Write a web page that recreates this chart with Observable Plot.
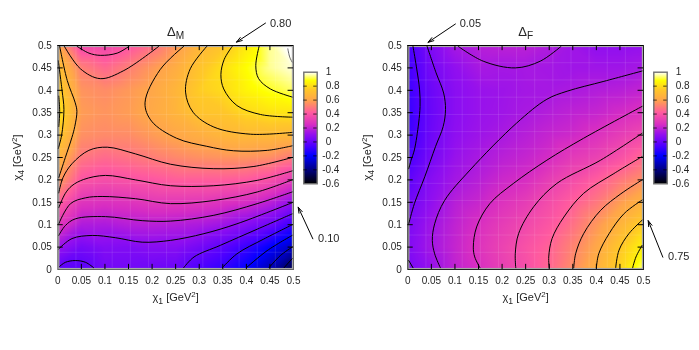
<!DOCTYPE html>
<html>
<head>
<meta charset="utf-8">
<style>
html,body{margin:0;padding:0;background:#fff}
#fig{position:relative;width:699px;height:350px;overflow:hidden;font-family:"Liberation Sans",sans-serif;filter:blur(.3px)}
#fig>svg,#fig>div{position:absolute;background:transparent}
</style>
<script src="https://cdn.jsdelivr.net/npm/d3@7"></script>
<script src="https://cdn.jsdelivr.net/npm/@observablehq/plot@0.6"></script>
</head>
<body>
<div id="fig"></div>
<script>
// axis samples of both value grids (GeV^2)
const chi1 = [0,.05,.1,.15,.2,.25,.3,.35,.4,.45,.5];
const chi4 = [0,.05,.1,.15,.2,.25,.3,.35,.4,.45,.5];
const axisTicks = [0,.05,.1,.15,.2,.25,.3,.35,.4,.45,.5];
const cbTicks = [-.6,-.4,-.2,0,.2,.4,.6,.8,1];
// faint cell boundaries visible in the colour map
const cellEdges = [1,2,3,4,5,6,7,8,9,10,11,12].map(k => k/26);

// Delta_M: one row per chi1 value, one entry per chi4 value
const deltaM = [
 [-.02,.12,.29,.44,.585,.67,.76,.83,.78,.72,.62],
 [-.03,.04,.165,.285,.405,.49,.55,.58,.56,.51,.36],
 [.03,.07,.16,.27,.38,.46,.535,.56,.54,.455,.35],
 [.03,.064,.18,.28,.395,.48,.54,.58,.57,.51,.40],
 [.02,.08,.185,.30,.41,.505,.575,.62,.61,.57,.47],
 [.01,.08,.175,.30,.43,.53,.61,.665,.67,.635,.565],
 [-.06,.035,.16,.295,.43,.55,.64,.73,.76,.73,.67],
 [-.11,-.02,.13,.275,.43,.56,.675,.74,.795,.805,.74],
 [-.2,-.095,.075,.25,.42,.56,.69,.79,.855,.88,.83],
 [-.32,-.2,.02,.19,.385,.545,.69,.815,.895,.95,.95],
 [-.5,-.3,-.1,.1,.3,.5,.68,.82,.93,.985,1.03]
];
// Delta_F: same layout
const deltaF = [
 [.04,.065,.05,.02,-.02,-.065,-.09,-.1,-.09,-.08,-.07],
 [.11,.14,.13,.1,.08,.04,.02,.01,.015,.035,.06],
 [.2,.21,.20,.18,.14,.115,.095,.085,.085,.10,.145],
 [.255,.275,.255,.215,.18,.15,.125,.115,.115,.145,.18],
 [.32,.335,.31,.27,.225,.185,.15,.13,.125,.14,.19],
 [.38,.39,.355,.31,.25,.21,.18,.15,.14,.145,.19],
 [.45,.44,.405,.37,.315,.245,.21,.175,.145,.14,.165],
 [.545,.52,.475,.43,.37,.30,.23,.195,.155,.13,.13],
 [.65,.61,.565,.49,.425,.33,.265,.21,.17,.13,.10],
 [.78,.745,.665,.58,.49,.385,.31,.24,.18,.13,.10],
 [.95,.855,.77,.66,.55,.455,.355,.27,.205,.145,.11]
];

// contour lines of Delta_M, read as [chi1, chi4]
const mC10 = [[.488,.4926],[.492,.474],[.497,.463]];
const mC09 = [[.427,.498],[.42,.455],[.426,.426],[.451,.403],[.497,.385]];
const mC08 = [[.37,.498],[.353,.469],[.346,.435],[.352,.403],[.38,.366],[.43,.346],[.497,.34]];
const mC07 = [[.316,.498],[.281,.448],[.271,.396],[.287,.351],[.331,.318],[.409,.302],[.497,.306]];
const mC06 = [[.267,.498],[.217,.446],[.185,.372],[.199,.331],[.252,.293],[.316,.275],[.373,.265],[.445,.266],[.497,.276]];
const mC05 = [[.002,.171],[.011,.205],[.030,.236],[.066,.266],[.105,.273],[.165,.258],[.239,.235],[.331,.225],[.416,.230],[.497,.25]];
const mC04 = [[.002,.138],[.016,.17],[.03,.187],[.055,.201],[.101,.21],[.165,.2],[.239,.187],[.331,.187],[.423,.199],[.497,.22]];
const mC03 = [[.002,.102],[.027,.147],[.059,.160],[.094,.163],[.165,.158],[.239,.147],[.331,.154],[.423,.173],[.497,.2]];
const mC02 = [[.002,.076],[.016,.098],[.037,.113],[.101,.118],[.179,.109],[.239,.108],[.331,.121],[.423,.147],[.497,.173]];
const mC01 = [[.002,.046],[.030,.069],[.073,.076],[.122,.071],[.179,.061],[.239,.065],[.31,.080],[.38,.102],[.497,.149]];
const mC00 = [[.267,.004],[.289,.028],[.345,.054],[.423,.09],[.497,.124]];
const mCm1 = [[.349,.004],[.380,.035],[.437,.068],[.497,.0997]];
const mCm2 = [[.40,.004],[.444,.042],[.497,.076]];
const mCm3 = [[.448,.004],[.472,.031],[.497,.05]];
const mCm4 = [[.48,.004],[.497,.024]];
const mC00arc = [[.004,.007],[.016,.016],[.037,.02],[.059,.016],[.076,.004]];
const mC05top = [[.014,.498],[.048,.448],[.09,.426],[.14,.444],[.214,.498]];
const mC04top = [[.041,.498],[.066,.483],[.09,.478],[.126,.483],[.151,.498]];
const mC06left = [[.004,.498],[.02,.422],[.037,.372],[.0405,.353],[.036,.319],[.03,.295],[.016,.25],[.002,.205]];
const mC07left = [[.001,.466],[.009,.4],[.013,.357],[.008,.299],[.001,.27]];
const mC08left = [[.002,.387],[.004,.353],[.002,.319]];
const mLines = [mC09,mC08,mC07,mC06,mC05,mC04,mC03,mC02,mC01,mC00,mCm1,mCm2,mCm3,mCm4,mC00arc,mC05top,mC04top,mC06left,mC07left,mC08left];
const mLinesGrey = [mC10];

// contour lines of Delta_F
const fCm05 = [[.011,.498],[.018,.454],[.025,.401],[.026,.364],[.023,.327],[.014,.267],[.007,.244],[.002,.225]];
const fC05 = [[.041,.498],[.06,.439],[.076,.394],[.08,.357],[.075,.319],[.059,.275],[.036,.207],[.014,.147],[.002,.102]];
const fC05corner = [[.002,.02],[.011,.004]];
const fC15 = [[.069,.004],[.057,.035],[.052,.065],[.057,.102],[.078,.154],[.132,.222],[.231,.327],[.295,.38],[.338,.398],[.416,.42],[.497,.443]];
const fC15top = [[.107,.498],[.16,.465],[.228,.45],[.281,.465],[.325,.498]];
const fC25 = [[.153,.004],[.142,.028],[.139,.05],[.146,.095],[.174,.147],[.224,.192],[.295,.244],[.373,.293],[.497,.364]];
const fC35 = [[.229,.004],[.228,.035],[.235,.08],[.267,.14],[.316,.192],[.409,.244],[.497,.304]];
const fC45 = [[.30,.004],[.299,.028],[.306,.069],[.331,.117],[.373,.17],[.437,.214],[.497,.252]];
const fC55 = [[.352,.004],[.356,.035],[.373,.08],[.409,.132],[.452,.169],[.497,.2]];
const fC65 = [[.40,.004],[.405,.035],[.427,.08],[.459,.125],[.497,.155]];
const fC75 = [[.441,.004],[.448,.043],[.469,.08],[.497,.11]];
const fC85 = [[.477,.004],[.484,.028],[.497,.054]];
const fLines = [fCm05,fC05,fC05corner,fC15,fC15top,fC25,fC35,fC45,fC55,fC65,fC75,fC85];

const colorScale = {
  type: "linear", clamp: true,
  domain: [-.6,-.4,-.2,-.05,.1,.25,.42,.6,.75,.88,1],
  range: ["#000000","#000082","#0000ff","#5000ff","#910ff0","#d72dc3","#ff5aa0","#ffa54b","#ffc828","#ffff00","#ffffff"]
};
const tickFormat = d => String(d);
const fontFamily = '"Liberation Sans",sans-serif';
const ink = "#262626";

function table(grid){
  const out = [];
  chi1.forEach((x,i) => chi4.forEach((y,j) => out.push({x, y, v: grid[i][j]})));
  return out;
}
function lineMark(pts, stroke){
  return Plot.line(pts, {x:d=>d[0], y:d=>d[1], curve:"catmull-rom", stroke, strokeWidth:1});
}
// turn _x and ^x markers in text into real sub/superscript tspans
function richText(svg){
  svg.querySelectorAll("text").forEach(t => {
    const nodes = t.querySelectorAll("tspan").length ? [...t.querySelectorAll("tspan")] : [t];
    nodes.forEach(n => {
      const s = n.textContent;
      if (!/[_^]/.test(s)) return;
      n.textContent = "";
      const big = n.closest("[font-size]") ? parseFloat(n.closest("[font-size]").getAttribute("font-size")) : 10;
      let shift = 0;
      s.split(/([_^].)/).filter(Boolean).forEach(part => {
        const ts = document.createElementNS("http://www.w3.org/2000/svg","tspan");
        let target = 0, txt = part;
        if (part[0]==="_"){target = big*.28; txt = part[1]; ts.setAttribute("font-size", big*.78);}
        else if (part[0]==="^"){target = -big*.38; txt = part[1]; ts.setAttribute("font-size", big*.72);}
        ts.setAttribute("dy", target - shift);
        shift = target;
        ts.textContent = txt;
        n.appendChild(ts);
      });
    });
  });
}

function panel(opts){
  const {grid, lines, greyLines, title, arrows, labels, left, frameStroke} = opts;
  const W = 350, H = 330;
  const len = .0115;
  const raster = Plot.raster(table(grid), {
    x:"x", y:"y", fill:"v", interpolate:"barycentric", pixelSize:1,
    x1:.0035, x2:.4965, y1:.0035, y2:.4965
  });
  const p = Plot.plot({
    width:W, height:H, marginLeft:57.3, marginRight:57, marginTop:45, marginBottom:61,
    style:{background:"transparent", fontFamily, fontSize:"10px", color:ink, overflow:"visible"},
    x:{domain:[0,.5], axis:null},
    y:{domain:[0,.5], axis:null},
    color:colorScale,
    marks:[
      Plot.frame({fill:"#a8a8a8", stroke:"none"}),
      raster,
      Plot.ruleX(cellEdges, {y1:.0035, y2:.4965, stroke:"#fff", strokeOpacity:.1, strokeWidth:1}),
      Plot.ruleY(cellEdges, {x1:.0035, x2:.4965, stroke:"#fff", strokeOpacity:.1, strokeWidth:1}),
      ...lines.map(l => lineMark(l, "#000")),
      ...greyLines.map(l => lineMark(l, "#666")),
      Plot.frame({stroke:frameStroke, strokeWidth:1}),
      Plot.ruleY([.5], {x1:0, x2:.5, stroke:"#000", strokeWidth:1}),
      Plot.ruleX(axisTicks.slice(1,-1), {y1:0, y2:len, stroke:"#000", strokeWidth:1}),
      Plot.ruleX(axisTicks.slice(1,-1), {y1:.5-len, y2:.5, stroke:"#000", strokeWidth:1}),
      Plot.ruleY(axisTicks.slice(1,-1), {x1:0, x2:len, stroke:"#000", strokeWidth:1}),
      Plot.ruleY(axisTicks.slice(1,-1), {x1:.5-len, x2:.5, stroke:"#000", strokeWidth:1}),
      Plot.axisX(axisTicks, {anchor:"bottom", tickSize:0, tickPadding:7, tickFormat, fontSize:10, fill:ink, label:null}),
      Plot.axisY(axisTicks, {anchor:"left", tickSize:0, tickPadding:6, tickFormat, fontSize:10, fill:ink, label:null}),
      Plot.text([title], {x:.25, y:.5, dy:-14, text:d=>d, fontSize:13, fill:ink, fontFamily}),
      Plot.text(["χ_1 [GeV^2]"], {x:.25, y:-.062, text:d=>d, fontSize:11, fill:ink, fontFamily}),
      Plot.text(["χ_4 [GeV^2]"], {x:-.085, y:.25, text:d=>d, rotate:-90, fontSize:11, fill:ink, fontFamily}),
      Plot.arrow(arrows, {x1:"x1", y1:"y1", x2:"x2", y2:"y2", stroke:"#000", strokeWidth:1, bend:0, headLength:9, headAngle:35}),
      Plot.text(labels, {x:"x", y:"y", text:"t", textAnchor:"start", fontSize:11, fill:ink, fontFamily})
    ]
  });
  p.style.left = left + "px";
  p.style.top = "0px";
  richText(p);
  return p;
}

function colorbar(left){
  const pos = cbTicks.filter(d => d >= 0), neg = cbTicks.filter(d => d < 0);
  const mid = cbTicks.slice(1,-1);
  const p = Plot.plot({
    width:50, height:130, marginLeft:7.3, marginRight:29.3, marginTop:11.7, marginBottom:6.7,
    style:{background:"transparent", fontFamily, fontSize:"10px", color:ink, overflow:"visible"},
    x:{domain:[0,1], axis:null},
    y:{domain:[-.6,1], axis:null},
    color:colorScale,
    marks:[
      Plot.raster({x1:0, x2:1, y1:-.6, y2:1, fill:(x,y)=>y, pixelSize:1}),
      Plot.frame({stroke:"#707070", strokeWidth:1.4}),
      Plot.ruleY(mid, {x1:0, x2:.26, stroke:"#000", strokeOpacity:.7, strokeWidth:1}),
      Plot.ruleY(mid, {x1:.74, x2:1, stroke:"#000", strokeOpacity:.7, strokeWidth:1}),
      Plot.text(pos, {x:1, y:d=>d, text:tickFormat, dx:8.5, textAnchor:"start", fontSize:10, fill:ink, fontFamily}),
      Plot.text(neg, {x:1, y:d=>d, text:tickFormat, dx:5, textAnchor:"start", fontSize:10, fill:ink, fontFamily})
    ]
  });
  p.style.left = left + "px";
  p.style.top = "60px";
  return p;
}

const fig = document.getElementById("fig");
fig.append(
  panel({grid:deltaM, lines:mLines, greyLines:mLinesGrey, title:"Δ_M", left:0, frameStroke:"#666",
    arrows:[{x1:.4406,y1:.55,x2:.379,y2:.5075},{x1:.541,y1:.0685,x2:.51,y2:.139}],
    labels:[{x:.45,y:.55,t:"0.80"},{x:.552,y:.0685,t:"0.10"}]}),
  panel({grid:deltaF, lines:fLines, greyLines:[], title:"Δ_F", left:350, frameStroke:"#222",
    arrows:[{x1:.101,y1:.548,x2:.043,y2:.507},{x1:.541,y1:.0275,x2:.51,y2:.109}],
    labels:[{x:.11,y:.55,t:"0.05"},{x:.552,y:.0285,t:"0.75"}]}),
  colorbar(296),
  colorbar(646)
);
</script>
</body>
</html>
